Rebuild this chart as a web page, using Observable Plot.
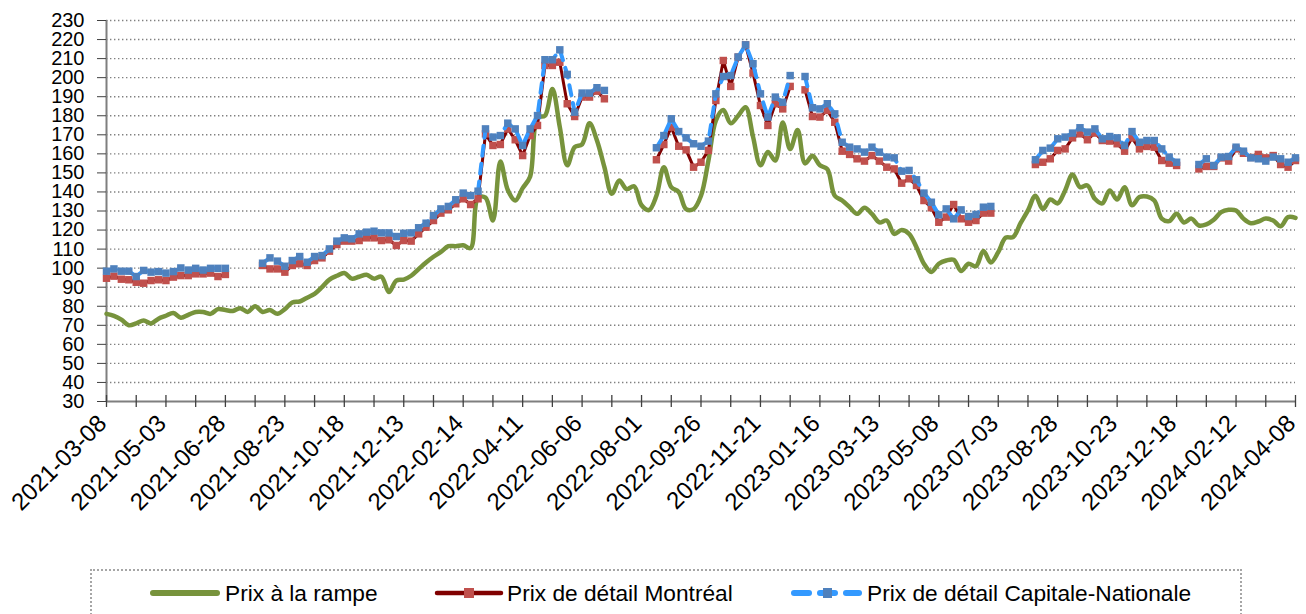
<!DOCTYPE html>
<html><head><meta charset="utf-8">
<script src="https://cdn.jsdelivr.net/npm/d3@7"></script>
<script src="https://cdn.jsdelivr.net/npm/@observablehq/plot@0.6"></script>
<style>
body{margin:0;background:#fff;font-family:"Liberation Sans",Arial,sans-serif;}
#wrap{position:relative;width:1306px;height:614px;overflow:hidden;background:#fff;}
#legend{position:absolute;left:90px;top:569px;width:1152px;height:70px;border:2px dotted #a6a6a6;box-sizing:border-box;}
.item{position:absolute;top:0;height:44px;display:flex;align-items:center;font-size:22.7px;color:#000;white-space:nowrap;}
.sw{position:absolute;top:0;}
</style></head><body>
<div id="wrap"><div id="chart"></div><div id="legend"></div></div>
<script>
const dates = [
"2021-03-08","2021-03-15","2021-03-22","2021-03-29","2021-04-05","2021-04-12","2021-04-19","2021-04-26",
"2021-05-03","2021-05-10","2021-05-17","2021-05-24","2021-05-31","2021-06-07","2021-06-14","2021-06-21",
"2021-06-28","2021-07-05","2021-07-12","2021-07-19","2021-07-26","2021-08-02","2021-08-09","2021-08-16",
"2021-08-23","2021-08-30","2021-09-06","2021-09-13","2021-09-20","2021-09-27","2021-10-04","2021-10-11",
"2021-10-18","2021-10-25","2021-11-01","2021-11-08","2021-11-15","2021-11-22","2021-11-29","2021-12-06",
"2021-12-13","2021-12-20","2022-01-03","2022-01-10","2022-01-17","2022-01-24","2022-01-31","2022-02-07",
"2022-02-14","2022-02-21","2022-02-28","2022-03-07","2022-03-14","2022-03-21","2022-03-28","2022-04-04",
"2022-04-11","2022-04-18","2022-04-25","2022-05-02","2022-05-09","2022-05-16","2022-05-23","2022-05-30",
"2022-06-06","2022-06-13","2022-06-20","2022-06-27","2022-07-04","2022-07-11","2022-07-18","2022-07-25",
"2022-08-01","2022-08-08","2022-08-15","2022-08-22","2022-08-29","2022-09-05","2022-09-12","2022-09-19",
"2022-09-26","2022-10-03","2022-10-10","2022-10-17","2022-10-24","2022-10-31","2022-11-07","2022-11-14",
"2022-11-21","2022-11-28","2022-12-05","2022-12-12","2022-12-19","2022-12-26","2023-01-02","2023-01-09",
"2023-01-16","2023-01-23","2023-01-30","2023-02-06","2023-02-13","2023-02-20","2023-02-27","2023-03-06",
"2023-03-13","2023-03-20","2023-03-27","2023-04-03","2023-04-10","2023-04-17","2023-04-24","2023-05-01",
"2023-05-08","2023-05-15","2023-05-22","2023-05-29","2023-06-05","2023-06-12","2023-06-19","2023-06-26",
"2023-07-03","2023-07-10","2023-07-17","2023-07-24","2023-07-31","2023-08-07","2023-08-14","2023-08-21",
"2023-08-28","2023-09-04","2023-09-11","2023-09-18","2023-09-25","2023-10-02","2023-10-09","2023-10-16",
"2023-10-23","2023-10-30","2023-11-06","2023-11-13","2023-11-20","2023-11-27","2023-12-04","2023-12-11",
"2023-12-18","2023-12-25","2024-01-01","2024-01-08","2024-01-15","2024-01-22","2024-01-29","2024-02-05",
"2024-02-12","2024-02-19","2024-02-26","2024-03-04","2024-03-11","2024-03-18","2024-03-25","2024-04-01",
"2024-04-08"];

const labelDates = ["2021-03-08","2021-05-03","2021-06-28","2021-08-23","2021-10-18","2021-12-13","2022-02-14",
"2022-04-11","2022-06-06","2022-08-01","2022-09-26","2022-11-21","2023-01-16","2023-03-13","2023-05-08",
"2023-07-03","2023-08-28","2023-10-23","2023-12-18","2024-02-12","2024-04-08"];

const tickDates = ["2021-03-08","2021-04-05","2021-05-03","2021-05-31","2021-06-28","2021-07-26","2021-08-23",
"2021-09-20","2021-10-18","2021-11-15","2021-12-13","2022-01-17","2022-02-14","2022-03-14","2022-04-11",
"2022-05-09","2022-06-06","2022-07-04","2022-08-01","2022-08-29","2022-09-26","2022-10-24","2022-11-21",
"2022-12-19","2023-01-16","2023-02-13","2023-03-13","2023-04-10","2023-05-08","2023-06-05","2023-07-03",
"2023-07-31","2023-08-28","2023-09-25","2023-10-23","2023-11-20","2023-12-18","2024-01-15","2024-02-12",
"2024-03-11","2024-04-08"];

const yTicks = [30,40,50,60,70,80,90,100,110,120,130,140,150,160,170,180,190,200,210,220,230];

// Prix à la rampe
const rampe = [
76,75,73,70,71,72.5,71,73.5,75,76.5,
74,75.5,77,77,76,78.5,78,77.5,79,77,
80,77,78,76,78.5,82,82.5,84.5,86.5,90,
94,96,97.5,94.5,95.5,96.5,94.5,95.5,87.5,93.5,
94,96,99.5,103,106,108.5,111.5,111.5,112,110.5,
137,137,125,156,141,135.5,142,148,179,180,
194,174,154,163.5,165,176,167,153,139,146,
141.5,143,133,130.5,138,153,142.5,140,131,131,
138,156.5,177.5,183,176,180,184.5,169,154,161,
156.5,176.5,162.5,172.5,155,159,154,152,138,135.5,
132,128.5,131.7,128.5,124,125,118,120,118,111,
102.3,98,102.3,104,104.4,98.5,102.3,101,109,103,
108.4,116,116.3,123.6,130.3,138,131,136,134,140.8,
149.2,142.5,143.4,136.4,134,140.8,136,142.5,133,137.3,
137.6,135.5,126,124.7,128.5,124,126,122.4,123,125.4,
129.4,130.6,130.3,126,123.6,124.5,126,125,122,126.8,
126.4];

// Prix de détail Montréal
const montreal = [
94.7,95.8,94.2,93.9,92.6,92.1,93.5,93.9,93.5,95.3,96.1,96.1,97,97,97.4,95.6,96.7,
null,null,null,null,
101.4,99.6,99.6,97.9,101.4,102.3,101.4,104,105.4,108.9,112.4,114.2,114.2,114.5,115.9,115.9,114.5,114.9,111.9,114.5,114.2,118,121.5,
125,128.9,130.6,133.8,136.4,133.4,136.4,170.5,164.4,164.9,173.1,167.4,159.1,169.6,174.9,206.4,206.4,208.1,186.3,179.6,189.8,189.8,192.9,188.9,
null,null,null,null,null,null,
156.9,164.9,174,164,162.1,153,155.6,161.8,188,209,195.4,210.8,217.2,202.4,185.4,174.9,186.3,183.6,195.4,
null,
193.6,179.6,179.3,182.8,176.6,161.4,159.7,157.4,156.2,159.1,156.2,153,152.1,144.6,146.9,143.4,135.5,131.7,124.1,126.8,133.4,125.9,124.1,125,128.9,128.9,
null,null,null,null,null,
154.4,155.6,157.4,161.8,162.6,168.4,170.5,167.4,170.9,167,166.7,165.3,161.4,168.4,162.6,163.9,163.5,156.5,155.1,153.9,
null,null,
152.1,153.4,153.4,157.9,156.2,162.6,160.3,158.1,159.7,157.9,159.1,154.4,153,156.5];

// Prix de détail Capitale-Nationale
const capitale = [
98.4,99.6,98.4,98.4,95.6,98.8,97.9,98.2,97.4,98.2,100.1,99,99.9,99,99.9,99.9,99.9,
null,null,null,null,
102.6,105.4,103.7,101,104,106.1,103.1,106.1,106.6,110.1,114.2,115.9,115.4,118,118.9,119.4,118.5,118.5,116.6,118.3,118.5,121.2,123.6,
127.6,131.1,132.4,135.9,139.4,138.1,140.4,173.1,168.8,169.6,176.1,173.1,164.4,173.1,180.1,209.4,209.4,214.6,201.7,181.9,191.9,191.9,194.7,193.3,
null,null,null,null,null,null,
163.2,169.6,178.4,171.7,168.4,165.3,164,166.7,191.5,200.6,201.1,210.8,217.2,207.3,191.5,179.3,189.8,187.1,201.1,
null,
200.6,184.2,183.6,186.3,181,166.1,163.5,162.6,160.9,163.5,160.9,158.3,157.9,150.9,151.3,146.4,139.4,134.6,128,131.1,125.9,130.6,127.1,128.2,132,132.4,
null,null,null,null,null,
156.9,161.8,163,167.9,168.8,170.9,173.7,171.4,173.1,167.9,169.1,168.4,164.4,171.7,166.1,167,167,162.6,158.3,155.6,
null,null,
154.4,157.4,153.9,158.3,158.6,163.5,161.4,157.9,157.4,156.2,158.3,157.4,155.6,157.9];

const seriesNames = ["Prix à la rampe","Prix de détail Montréal","Prix de détail Capitale-Nationale"];
const colors = {rampe:"#77933C", mtlLine:"#800000", mtlDot:"#C0504D", cnLine:"#3399FF", cnDot:"#4F81BD"};

const rows = dates.map((d,i) => ({date:d, rampe:rampe[i], mtl:montreal[i], cn:capitale[i]}));

const chart = Plot.plot({
  width:1306, height:545,
  marginLeft:106, marginRight:11, marginTop:20, marginBottom:144,
  style:{fontFamily:"'Liberation Sans', Arial, sans-serif", background:"#fff", color:"#000", overflow:"visible"},
  x:{type:"point", domain:dates, padding:0, axis:null, label:null},
  y:{domain:[30,230], axis:null, label:null},
  marks:[
    Plot.gridY(yTicks.filter(v => v > 30), {stroke:"#808080", strokeOpacity:1, strokeWidth:1.4, strokeDasharray:"1.4,2.6"}),
    Plot.ruleY([30], {stroke:"#7f7f7f", strokeWidth:2}),
    Plot.ruleX([dates[0]], {stroke:"#7f7f7f", strokeWidth:2}),
    Plot.ruleX(tickDates, {y1:30, y2:30, insetTop:-6, insetBottom:-6, stroke:"#404040", strokeWidth:1.3}),
    Plot.axisY({ticks:yTicks, tickSize:9, tickPadding:13, fontSize:20, stroke:"#404040", fill:"#000", label:null, tickFormat:d=>String(d)}),
    Plot.axisX({ticks:labelDates, tickSize:0, tickRotate:-45, tickPadding:18, dx:-4, fontSize:24, fill:"#000", label:null, tickFormat:d=>d}),
    Plot.line(rows, {x:"date", y:"rampe", stroke:colors.rampe, strokeWidth:4.5, curve:"catmull-rom"}),
    Plot.line(rows, {x:"date", y:"mtl", stroke:colors.mtlLine, strokeWidth:3}),
    Plot.dot(rows, {x:"date", y:"mtl", symbol:"square", r:4.2, fill:colors.mtlDot, stroke:"none"}),
    Plot.line(rows, {x:"date", y:"cn", stroke:colors.cnLine, strokeWidth:4, strokeDasharray:"10,8", strokeLinecap:"round"}),
    Plot.dot(rows, {x:"date", y:"cn", symbol:"square", r:4.2, fill:colors.cnDot, stroke:"none"})
  ]
});
document.getElementById("chart").appendChild(chart);

// legend
const lg = document.getElementById("legend");
lg.innerHTML = `
<svg class="sw" width="1150" height="44" style="left:0;top:0">
  <line x1="61" y1="22" x2="125" y2="22" stroke="${colors.rampe}" stroke-width="6" stroke-linecap="round"/>
  <line x1="345" y1="22" x2="409" y2="22" stroke="${colors.mtlLine}" stroke-width="4.5" stroke-linecap="round"/>
  <rect x="372" y="17" width="10" height="10" fill="${colors.mtlDot}"/>
  <line x1="702" y1="22" x2="717" y2="22" stroke="${colors.cnLine}" stroke-width="6" stroke-linecap="round"/>
  <line x1="728" y1="22" x2="743" y2="22" stroke="${colors.cnLine}" stroke-width="6" stroke-linecap="round"/>
  <line x1="754" y1="22" x2="767" y2="22" stroke="${colors.cnLine}" stroke-width="6" stroke-linecap="round"/>
  <rect x="731" y="17" width="9" height="10" fill="${colors.cnDot}"/>
</svg>
<div class="item" style="left:133px">${seriesNames[0]}</div>
<div class="item" style="left:415px">${seriesNames[1]}</div>
<div class="item" style="left:775px">${seriesNames[2]}</div>`;
</script>
</body></html>
